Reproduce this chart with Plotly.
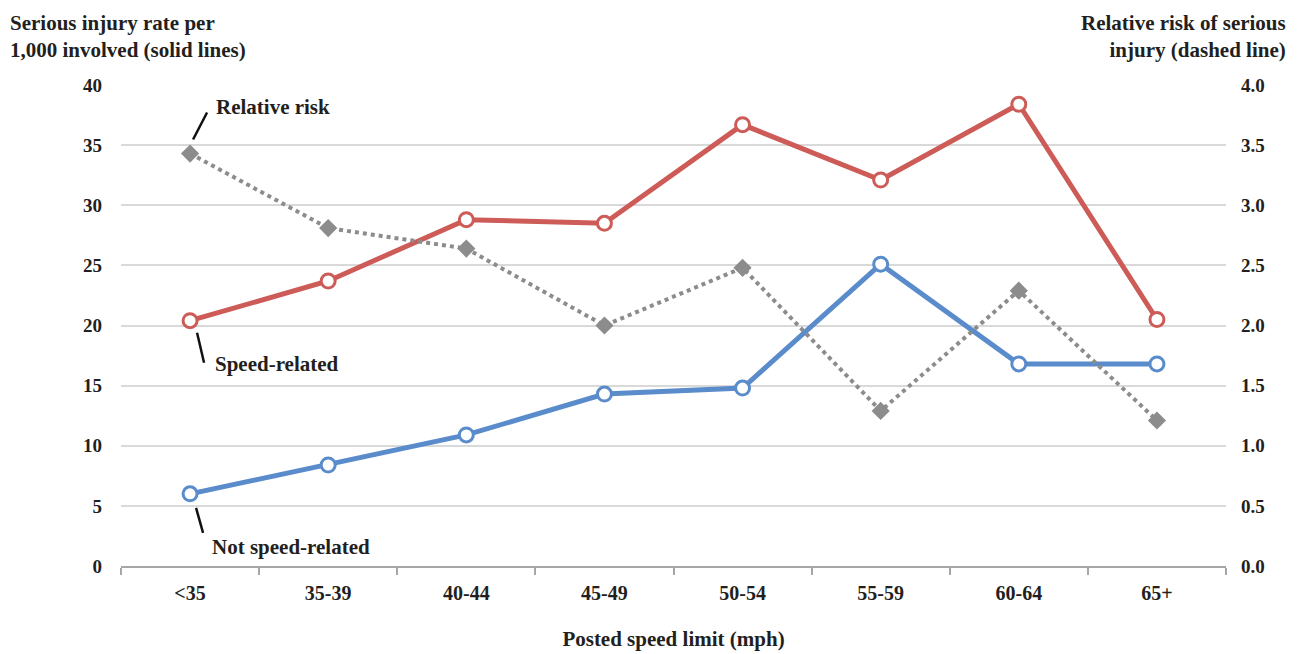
import plotly.graph_objects as go

categories = ["<35", "35-39", "40-44", "45-49", "50-54", "55-59", "60-64", "65+"]
speed_related = [20.4, 23.7, 28.8, 28.5, 36.7, 32.1, 38.4, 20.5]
not_speed_related = [6.0, 8.4, 10.9, 14.3, 14.8, 25.1, 16.8, 16.8]
relative_risk = [3.43, 2.81, 2.64, 2.00, 2.48, 1.29, 2.29, 1.21]

FONT = "Liberation Serif"
TXT = "#231f20"
RED = "#cd5b57"
BLUE = "#5a8ccb"
GRAY = "#8c8c8c"

W, H = 1293, 646
L, R, T, B = 113, 75, 77, 88
PW, PH = W - L - R, H - T - B

fig = go.Figure()

fig.add_trace(go.Scatter(
    x=categories, y=relative_risk, yaxis="y2", mode="lines+markers",
    line=dict(color=GRAY, width=4, dash="dot"),
    marker=dict(symbol="diamond", size=14, color=GRAY),
    name="Relative risk"))

fig.add_trace(go.Scatter(
    x=categories, y=speed_related, mode="lines+markers",
    line=dict(color=RED, width=5),
    marker=dict(symbol="circle", size=14, color="white", line=dict(color=RED, width=3)),
    name="Speed-related"))

fig.add_trace(go.Scatter(
    x=categories, y=not_speed_related, mode="lines+markers",
    line=dict(color=BLUE, width=5),
    marker=dict(symbol="circle", size=14, color="white", line=dict(color=BLUE, width=3)),
    name="Not speed-related"))

tickfont = dict(family=FONT, size=19, color=TXT)

fig.update_layout(
    width=W, height=H,
    margin=dict(l=L, r=R, t=T, b=B, autoexpand=False),
    paper_bgcolor="white", plot_bgcolor="white",
    showlegend=False, hovermode=False,
    font=dict(family=FONT, color=TXT, size=19),
    xaxis=dict(
        type="category", range=[-0.5, 7.5], automargin=False,
        showline=True, linecolor="#a6a6a6", linewidth=2,
        ticks="outside", tickson="boundaries", ticklen=7, tickwidth=2, tickcolor="#a6a6a6",
        tickfont=dict(family=FONT, size=20, color=TXT), showgrid=False, zeroline=False,
        ticklabelstandoff=8,
        title=dict(text="<b>Posted speed limit (mph)</b>", font=dict(family=FONT, size=21, color=TXT), standoff=28),
        tickprefix="<b>", ticksuffix="</b>",
    ),
    yaxis=dict(
        range=[0, 40], dtick=5, showgrid=True, gridcolor="#d9d9d9", gridwidth=2, automargin=False,
        zeroline=False, showline=False, ticks="", tickfont=tickfont, ticklabelstandoff=18,
        tickprefix="<b>", ticksuffix="</b>",
    ),
    yaxis2=dict(
        range=[0, 4], dtick=0.5, tickformat=".1f", overlaying="y", side="right", automargin=False,
        showgrid=False, zeroline=False, showline=False, ticks="", tickfont=tickfont, ticklabelstandoff=14,
        tickprefix="<b>", ticksuffix="</b>",
    ),
)

# axis titles at top
fig.add_annotation(xref="paper", yref="paper", x=-L / PW, y=1 + (T - 1) / PH, xanchor="left", yanchor="top",
                   align="left", showarrow=False,
                   text="<b>Serious injury rate per<br>1,000 involved (solid lines)</b>",
                   font=dict(family=FONT, size=21, color=TXT))
fig.add_annotation(xref="paper", yref="paper", x=1 + (R - 13) / PW, y=1 + (T - 1) / PH, xanchor="right", yanchor="top",
                   align="right", showarrow=False,
                   text="<b>Relative risk of serious<br>injury (dashed line)</b>",
                   font=dict(family=FONT, size=21, color=TXT))

# series labels with leader lines anchored to first points
labels = [
    ("Relative risk", relative_risk[0], "y2", 24, 47, (3, 14, 17, 41)),
    ("Speed-related", speed_related[0], "y", 23, -43, (7, -12, 14, -42)),
    ("Not speed-related", not_speed_related[0], "y", 20, -53, (6, -14, 13, -39)),
]
for text, yv, yref, xs, ys, (x0, y0, x1, y1) in labels:
    fig.add_annotation(x=categories[0], y=yv, xref="x", yref=yref, xanchor="left", yanchor="middle",
                       xshift=xs, yshift=ys, showarrow=False, text=f"<b>{text}</b>",
                       font=dict(family=FONT, size=21, color=TXT))
    fig.add_shape(type="line", xref="x", yref=yref, xsizemode="pixel", ysizemode="pixel",
                  xanchor=0, yanchor=yv, x0=x0, y0=y0, x1=x1, y1=y1,
                  line=dict(color="#111111", width=2.5))

fig.write_html("out.html")
